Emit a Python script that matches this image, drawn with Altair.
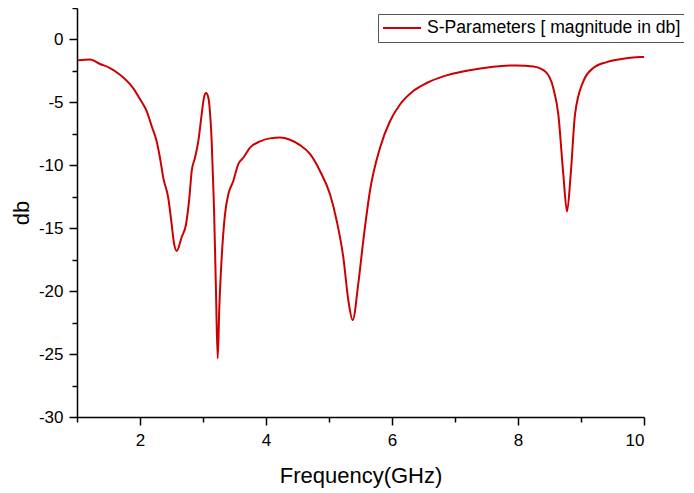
import altair as alt
import pandas as pd

freq = [1.016, 1.206, 1.365, 1.524, 1.683, 1.889, 2.0, 2.106, 2.186, 2.265, 2.317, 2.370,
        2.449, 2.503, 2.540, 2.583, 2.662, 2.730, 2.783, 2.821, 2.873, 2.925, 2.979, 3.016,
        3.048, 3.079, 3.100, 3.138, 3.175, 3.206, 3.233, 3.259, 3.297, 3.349, 3.402, 3.481,
        3.560, 3.640, 3.746, 3.905, 4.063, 4.222, 4.381, 4.540, 4.698, 4.857, 5.016, 5.122,
        5.227, 5.306, 5.376, 5.465, 5.544, 5.651, 5.810, 5.968, 6.127, 6.338, 6.551, 6.814,
        7.186, 7.608, 7.979, 8.243, 8.429, 8.560, 8.640, 8.719, 8.778, 8.837, 8.905, 9.037,
        9.195, 9.408, 9.671, 9.937, 10.0]
db = [-1.66, -1.6, -1.95, -2.27, -2.8, -3.85, -4.75, -5.7, -6.9, -8.1, -9.4, -11.0,
      -12.6, -14.7, -16.2, -16.8, -15.7, -14.7, -12.6, -10.45, -9.4, -8.1, -5.95, -4.6,
      -4.25, -4.5, -5.15, -8.1, -13.4, -20.0, -25.35, -21.3, -17.3, -13.9, -12.3, -11.25,
      -9.9, -9.4, -8.6, -8.1, -7.86, -7.8, -7.97, -8.4, -9.1, -10.45, -12.3, -14.4,
      -17.3, -20.7, -22.3, -19.4, -16.0, -12.0, -8.6, -6.5, -5.17, -4.1, -3.46, -2.93,
      -2.48, -2.16, -2.06, -2.14, -2.53, -3.85, -5.96, -10.7, -13.67, -10.7, -5.96, -3.33,
      -2.27, -1.8, -1.53, -1.4, -1.4]
series_name = "S-Parameters [ magnitude in db]"
x_ticks = [1, 2, 3, 4, 5, 6, 7, 8, 9, 10]
y_ticks = [-30, -27.5, -25, -22.5, -20, -17.5, -15, -12.5, -10, -7.5, -5, -2.5, 0, 2.5]

df = pd.DataFrame({"freq": freq, "db": db, "series": [series_name] * len(freq)})

FONT = "Liberation Sans"

chart = alt.Chart(df).mark_line(strokeWidth=2, interpolate="monotone").encode(
    x=alt.X("freq:Q", scale=alt.Scale(domain=[1, 10], nice=False, zero=False),
            axis=alt.Axis(values=x_ticks, title="Frequency(GHz)",
                          labelExpr="datum.value % 2 === 0 ? toString(datum.value) : ''",
                          tickSize={"condition": {"test": "datum.value % 2 === 0", "value": 8}, "value": 5},
                          grid=False, domainColor="black", domainWidth=1.5,
                          tickColor="black", tickWidth=1.5, labelPadding=7,
                          labelFontSize=17, labelFont=FONT, labelColor="black",
                          titleFontSize=22, titleFont=FONT, titleFontWeight="normal",
                          titleColor="black", titlePadding=17)),
    y=alt.Y("db:Q", scale=alt.Scale(domain=[-30, 2.5], nice=False, zero=False),
            axis=alt.Axis(values=y_ticks, title="db",
                          labelExpr="datum.value % 5 === 0 ? toString(datum.value) : ''",
                          tickSize={"condition": {"test": "datum.value % 5 === 0", "value": 8}, "value": 5},
                          grid=False, domainColor="black", domainWidth=1.5,
                          tickColor="black", tickWidth=1.5, labelPadding=6,
                          labelFontSize=17, labelFont=FONT, labelColor="black",
                          titleFontSize=22, titleFont=FONT, titleFontWeight="normal",
                          titleColor="black", titlePadding=5)),
    color=alt.Color("series:N", scale=alt.Scale(range=["#cc0000"]),
                    legend=alt.Legend(title=None, orient="none", legendX=301, legendY=6,
                                      symbolType="stroke", symbolSize=1444, symbolStrokeWidth=2,
                                      labelFontSize=17.6, labelFont=FONT, labelColor="black",
                                      labelLimit=500, labelOffset=5, padding=4, clipHeight=20,
                                      strokeColor="#555555", fillColor="white")),
).properties(
    width=567, height=409,
    autosize=alt.AutoSizeParams(type="none"),
    padding={"left": 69, "top": 0, "right": 40, "bottom": 76},
).configure_view(stroke=None)

chart.save("out.html", embed_options={"renderer": "svg", "actions": False})
